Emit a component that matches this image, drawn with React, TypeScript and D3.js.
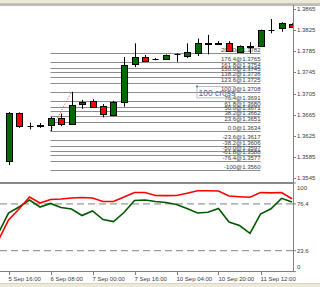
import React from "react";
import * as d3 from "d3";

// ---- data ----
const opens = [1.3577, 1.3668, 1.3644, 1.3644, 1.3645, 1.3658, 1.3648, 1.3685, 1.369, 1.3681, 1.3664, 1.3689, 1.3761, 1.3774, 1.377, 1.377, 1.378, 1.3776, 1.3782, 1.38, 1.3801, 1.3801, 1.3784, 1.3795, 1.3795, 1.3825, 1.3829, 1.3837];
const highs = [1.367, 1.3669, 1.365, 1.3649, 1.3661, 1.3667, 1.3708, 1.3693, 1.3694, 1.3685, 1.3691, 1.3774, 1.38, 1.3778, 1.3772, 1.3779, 1.3781, 1.38, 1.3809, 1.3816, 1.3804, 1.3804, 1.3796, 1.3802, 1.3826, 1.3846, 1.384, 1.3838];
const lows = [1.357, 1.364, 1.3637, 1.364, 1.3634, 1.3643, 1.3647, 1.3676, 1.3678, 1.366, 1.3662, 1.368, 1.3755, 1.3765, 1.3768, 1.3769, 1.3765, 1.3772, 1.3776, 1.3779, 1.3797, 1.3784, 1.3782, 1.3781, 1.3794, 1.3819, 1.3822, 1.383];
const closes = [1.3668, 1.3644, 1.3644, 1.3645, 1.3659, 1.3648, 1.3683, 1.3689, 1.368, 1.3666, 1.3689, 1.3759, 1.3774, 1.3767, 1.377, 1.3778, 1.378, 1.3784, 1.3801, 1.3798, 1.38, 1.3786, 1.3795, 1.3793, 1.3825, 1.3825, 1.3839, 1.3831];

// oscillator values, first value belongs to the bar before the first visible candle
const redLine = [34.5, 58.2, 70.7, 84.2, 77.4, 81.4, 81.9, 83.1, 83.6, 83.1, 79.1, 79.1, 84.2, 89.3, 89.3, 85.9, 85.7, 85.9, 88.4, 91.3, 91.3, 91.0, 85.3, 84.5, 83.9, 89.3, 88.9, 89.3, 82.2];
const greenLine = [42.4, 66.1, 72.9, 80.8, 72.9, 76.9, 72.3, 70.7, 63.3, 68.4, 58.8, 56.5, 66.7, 80.2, 80.8, 79.1, 78.0, 75.7, 71.2, 66.1, 66.9, 71.2, 56.0, 52.0, 43.2, 65.0, 70.9, 82.7, 78.6];

const priceTicks = [1.3865, 1.3825, 1.3785, 1.3745, 1.3705, 1.3665, 1.3625, 1.3585, 1.3545];
const oscTicks = [100, 76.4, 23.6, 0];
const oscLevels = [76.4, 23.6];

const timeTickBars = [0, 4, 8, 12, 16, 20, 24];
const timeTickLabels = ["5 Sep 16:00", "6 Sep 08:00", "7 Sep 00:00", "7 Sep 16:00", "10 Sep 04:00", "10 Sep 20:00", "11 Sep 12:00"];

const fibLow = 1.3634;
const fibHigh = 1.3708;
const fibStartBar = 4;
const fibEndBar = 6;
const fibLineEndBar = 24;
const fibLevels = [200, 176.4, 161.8, 150, 138.2, 123.6, 100, 76.4, 61.8, 50, 38.2, 23.6, 0, -23.6, -38.2, -50, -61.8, -76.4, -100];
const fibLabels = ["200.0@1.3782", "176.4@1.3765", "161.8@1.3754", "150.0@1.3745", "138.2@1.3736", "123.6@1.3725", "100.0@1.3708", "76.4@1.3691", "61.8@1.3680", "50.0@1.3671", "38.2@1.3662", "23.6@1.3651", "0.0@1.3634", "-23.6@1.3617", "-38.2@1.3606", "-50.0@1.3597", "-61.8@1.3588", "-76.4@1.3577", "-100@1.3560"];
const noteText = "100 cross";
const noteBar = 18;
const notePrice = 1.3708;

export default function App() {
  const W = 320, H = 287;
  const plotRight = 293;
  const mainTop = 5, mainBottom = 183;
  const oscTop = 183, oscBottom = 271.6;

  const x = d3.scaleLinear().domain([0, 27]).range([8.5, 292]);
  const y = d3.scaleLinear().domain([1.3545, 1.3865]).range([178, 9]);
  const yo = d3.scaleLinear().domain([0, 100]).range([oscBottom, oscTop]);

  const lineGen = d3.line<number>().x((_, i) => x(i - 1)).y((d) => yo(d));

  const bw = 3;
  const font = "'Liberation Sans', Arial, sans-serif";
  const txtCol = "#3a3a3a";

  return (
    <svg width={W} height={H} style={{ position: "absolute", left: 0, top: 0, background: "#fff" }} fontFamily={font}>
      <defs>
        <clipPath id="mainClip"><rect x={0} y={mainTop} width={plotRight} height={mainBottom - mainTop} /></clipPath>
        <clipPath id="oscClip"><rect x={0} y={oscTop + 1} width={plotRight} height={oscBottom - oscTop} /></clipPath>
      </defs>
      {/* window chrome */}
      <rect x={0} y={0} width={W} height={3} fill="#ece9d8" />
      <line x1={0} x2={W} y1={3.5} y2={3.5} stroke="#c8c5b4" />
      <line x1={0} x2={W} y1={5} y2={5} stroke="#7a7a7a" strokeWidth={1.2} />

      {/* fibonacci */}
      <g clipPath="url(#mainClip)">
        {fibLevels.map((lv, i) => {
          const p = fibLow + (lv / 100) * (fibHigh - fibLow);
          const yy = Math.round(y(p)) + 0.5;
          return (
            <g key={"f" + i}>
              <line x1={x(fibStartBar)} x2={x(fibLineEndBar)} y1={yy} y2={yy} stroke="#8c8c8c" strokeWidth={1} />
              <text x={x(fibLineEndBar)} y={yy - 1.2} fontSize={6} textAnchor="end" fill={txtCol}>{fibLabels[i]}</text>
            </g>
          );
        })}
        <line x1={x(fibStartBar)} y1={y(fibLow)} x2={x(fibEndBar)} y2={y(fibHigh)} stroke="#e03030" strokeDasharray="1,2" strokeWidth={1} />
        {/* note */}
        <rect x={x(noteBar) - 0.5} y={y(notePrice) - 5.5} width={38} height={11.5} fill="none" stroke="#a6aec8" strokeWidth={0.8} />
        <rect x={x(noteBar) - 1.5} y={y(notePrice) - 6.5} width={2} height={2} fill="#7080b0" />
        <text x={x(noteBar) + 1} y={y(notePrice) + 4} fontSize={8.5} fill="#5a6a98">{noteText}</text>

        {/* candles */}
        {opens.map((o, i) => {
          const c = closes[i];
          const cx = Math.round(x(i)) + 0.5;
          const top = Math.round(y(Math.max(o, c)));
          const bot = Math.round(y(Math.min(o, c)));
          const up = c > o;
          const doji = o === c;
          return (
            <g key={"c" + i}>
              <line x1={cx} x2={cx} y1={y(highs[i])} y2={y(lows[i])} stroke="#000" strokeWidth={1} />
              {doji ? (
                <line x1={cx - bw} x2={cx + bw} y1={top + 0.5} y2={top + 0.5} stroke="#000" strokeWidth={1} />
              ) : (
                <rect x={cx - bw} y={top + 0.5} width={bw * 2} height={Math.max(1, bot - top)} fill={up ? "#006a00" : "#ff0000"} stroke="#000" strokeWidth={1} />
              )}
            </g>
          );
        })}
      </g>

      {/* oscillator */}
      <g clipPath="url(#oscClip)">
        {oscLevels.map((lv) => (
          <line key={"l" + lv} x1={0} x2={plotRight} y1={yo(lv)} y2={yo(lv)} stroke="#808080" strokeDasharray="7,4" strokeWidth={1} />
        ))}
        <path d={lineGen(greenLine) || ""} fill="none" stroke="#005800" strokeWidth={1.6} />
        <path d={lineGen(redLine) || ""} fill="none" stroke="#ff0000" strokeWidth={1.6} />
      </g>

      {/* frames */}
      <line x1={plotRight + 0.5} x2={plotRight + 0.5} y1={5} y2={272} stroke="#808080" />
      <line x1={0} x2={plotRight + 1} y1={183} y2={183} stroke="#888" strokeWidth={2} />
      <line x1={0} x2={plotRight + 1} y1={271.5} y2={271.5} stroke="#808080" />

      {/* price axis */}
      {priceTicks.map((p) => (
        <g key={"p" + p}>
          <line x1={plotRight} x2={plotRight + 3} y1={Math.round(y(p)) + 0.5} y2={Math.round(y(p)) + 0.5} stroke="#808080" />
          <text x={297} y={y(p)} dy="0.35em" fontSize={6} fill={txtCol}>{p.toFixed(4)}</text>
        </g>
      ))}
      {/* oscillator axis */}
      {oscTicks.map((v) => {
        const yy = Math.min(Math.max(yo(v), oscTop + 5), oscBottom - 5);
        return (
          <g key={"o" + v}>
            <line x1={plotRight} x2={plotRight + 3} y1={yo(v)} y2={yo(v)} stroke="#808080" />
            <text x={297} y={yy} dy="0.35em" fontSize={6} fill={txtCol}>{String(v)}</text>
          </g>
        );
      })}

      {/* time axis */}
      {timeTickBars.map((b, i) => (
        <g key={"t" + b}>
          <line x1={Math.round(x(b)) + 0.5} x2={Math.round(x(b)) + 0.5} y1={272} y2={275} stroke="#808080" />
          <text x={x(b)} y={280.5} fontSize={6} fill={txtCol}>{timeTickLabels[i]}</text>
        </g>
      ))}

      <line x1={0} x2={W} y1={283.5} y2={283.5} stroke="#d8d5c4" />
      <rect x={0} y={284} width={W} height={3} fill="#ece9d8" />
    </svg>
  );
}
